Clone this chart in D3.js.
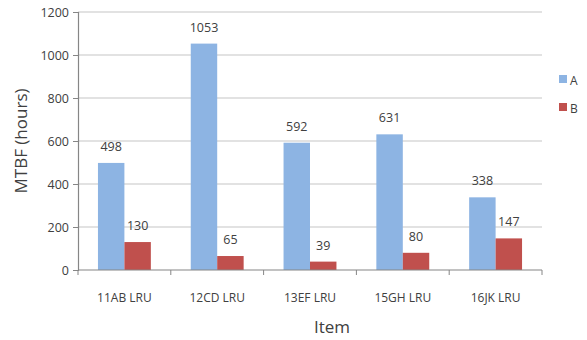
<!DOCTYPE html>
<html>
<head>
<meta charset="utf-8">
<script src="https://cdn.jsdelivr.net/npm/d3@7"></script>
<style>
  body { margin: 0; background: #fff; }
  text { font-family: "Open Sans", "Noto Sans", sans-serif; fill: #404040; }
</style>
</head>
<body>
<script>
// chart data
var categories = ["11AB LRU", "12CD LRU", "13EF LRU", "15GH LRU", "16JK LRU"];
var seriesNames = ["A", "B"];
var valuesA = [498, 1053, 592, 631, 338];
var valuesB = [130, 65, 39, 80, 147];
var yTicks = [0, 200, 400, 600, 800, 1000, 1200];

var width = 587, height = 340;
var plot = { left: 78, right: 542, top: 12, bottom: 270 };
var colors = { A: "#8db4e3", B: "#c0504d" };

var svg = d3.select("body").append("svg")
    .attr("width", width).attr("height", height);

var x0 = d3.scaleBand()
    .domain(categories)
    .range([plot.left, plot.right])
    .paddingInner(0.43)
    .paddingOuter(0.215);
var xcat = d3.scaleBand().domain(categories).range([plot.left, plot.right]);
var x1 = d3.scaleBand().domain(seriesNames).range([0, x0.bandwidth()]);
var y = d3.scaleLinear().domain([0, 1200]).range([plot.bottom, plot.top]);

// gridlines
svg.append("g").selectAll("line")
  .data(yTicks.filter(function(d) { return d > 0; }))
  .enter().append("line")
  .attr("x1", plot.left).attr("x2", plot.right)
  .attr("y1", function(d) { return y(d); })
  .attr("y2", function(d) { return y(d); })
  .attr("stroke", "#d9d9d9").attr("stroke-width", 1.5);

// y axis
var yaxis = d3.axisLeft(y).tickValues(yTicks).tickFormat(d3.format("d"))
    .tickSize(5).tickPadding(4);
var gy = svg.append("g")
    .attr("transform", "translate(" + plot.left + ",0)")
    .call(yaxis);
gy.select(".domain").attr("stroke", "#868686").attr("stroke-width", 1.2);
gy.selectAll(".tick line").attr("stroke", "#868686");
gy.selectAll(".tick text").style("font-size", "12.5px").attr("fill", "#595959");

// bars
var rows = categories.map(function(c, i) {
  return { cat: c, vals: [{ s: "A", v: valuesA[i] }, { s: "B", v: valuesB[i] }] };
});
var groups = svg.append("g").selectAll("g")
  .data(rows).enter().append("g")
  .attr("transform", function(d) { return "translate(" + x0(d.cat) + ",0)"; });

groups.selectAll("rect")
  .data(function(d) { return d.vals; })
  .enter().append("rect")
  .attr("x", function(d) { return x1(d.s); })
  .attr("width", x1.bandwidth())
  .attr("y", function(d) { return y(d.v); })
  .attr("height", function(d) { return plot.bottom - y(d.v); })
  .attr("fill", function(d) { return colors[d.s]; });

groups.selectAll("text")
  .data(function(d) { return d.vals; })
  .enter().append("text")
  .attr("x", function(d) { return x1(d.s) + x1.bandwidth() / 2; })
  .attr("y", function(d) { return y(d.v) - 12; })
  .attr("text-anchor", "middle")
  .style("font-size", "12.5px")
  .text(function(d) { return d.v; });

// x axis with ticks at category boundaries
var gx = svg.append("g").attr("transform", "translate(0," + plot.bottom + ")");
gx.append("line").attr("x1", plot.left).attr("x2", plot.right)
  .attr("stroke", "#868686").attr("stroke-width", 1.2);
var bounds = categories.map(function(c) { return xcat(c); }).concat([plot.right]);
gx.selectAll("line.tk").data(bounds).enter().append("line")
  .attr("class", "tk")
  .attr("x1", function(d) { return d; }).attr("x2", function(d) { return d; })
  .attr("y1", 0).attr("y2", 5).attr("stroke", "#868686");
gx.selectAll("text").data(categories).enter().append("text")
  .attr("x", function(d) { return xcat(d) + xcat.bandwidth() / 2; })
  .attr("y", 32)
  .attr("text-anchor", "middle")
  .style("font-size", "12px").attr("fill", "#595959")
  .text(function(d) { return d; });

// axis titles
svg.append("text")
  .attr("transform", "translate(27,141) rotate(-90)")
  .attr("text-anchor", "middle")
  .style("font-size", "17px")
  .text("MTBF (hours)");
svg.append("text")
  .attr("x", 332).attr("y", 333)
  .attr("text-anchor", "middle")
  .style("font-size", "17px")
  .text("Item");

// legend
var legend = svg.append("g").selectAll("g")
  .data(seriesNames).enter().append("g")
  .attr("transform", function(d, i) { return "translate(559," + (75 + i * 28) + ")"; });
legend.append("rect").attr("width", 8).attr("height", 8)
  .attr("fill", function(d) { return colors[d]; });
legend.append("text").attr("x", 11).attr("y", 10)
  .style("font-size", "12px")
  .text(function(d) { return d; });
</script>
</body>
</html>
